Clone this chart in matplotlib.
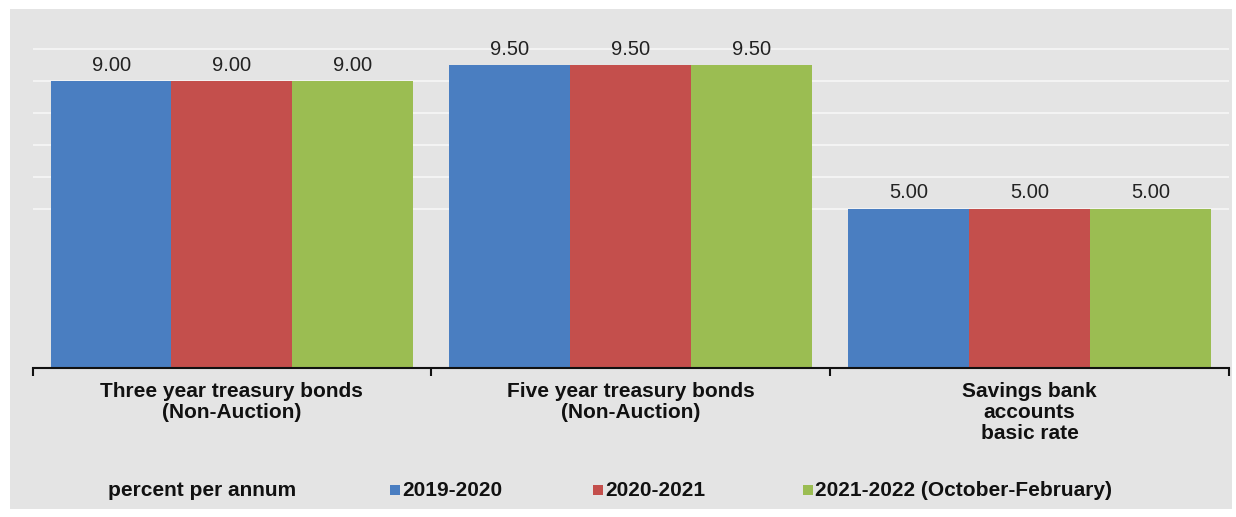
import matplotlib
matplotlib.use("Agg")
import matplotlib.pyplot as plt
from matplotlib.patches import Rectangle
import numpy as np

plt.rcParams['font.family'] = ['Liberation Sans', 'DejaVu Sans']

categories = ["Three year treasury bonds\n(Non-Auction)",
              "Five year treasury bonds\n(Non-Auction)",
              "Savings bank\naccounts\nbasic rate"]
series_names = ["2019-2020", "2020-2021", "2021-2022 (October-February)"]
v2019 = [9.00, 9.50, 5.00]
v2020 = [9.00, 9.50, 5.00]
v2021 = [9.00, 9.50, 5.00]
colors = ["#4a7ec1", "#c44f4c", "#9bbd52"]

W, H = 1236, 517
fig = plt.figure(figsize=(W / 100, H / 100), dpi=100, facecolor="white")
fig.patches.append(Rectangle((10 / W, 8 / H), 1222 / W, 500 / H, transform=fig.transFigure,
                             facecolor="#e4e4e4", edgecolor="none", zorder=-10))

ax = fig.add_axes([32.5 / W, (H - 368) / H, (1229 - 32.5) / W, (368 - 30) / H])
ax.set_facecolor("none")
x = np.arange(len(categories))
bw = 0.303
for i, (vals, c) in enumerate(zip([v2019, v2020, v2021], colors)):
    pos = x + (i - 1) * bw
    ax.bar(pos, vals, width=bw, color=c, zorder=3, label=series_names[i])
    for p, v in zip(pos, vals):
        ax.text(p, v + 0.2, f"{v:.2f}", ha="center", va="bottom", fontsize=14.5,
                color="#222222", zorder=4)

ax.set_xlim(-0.5, 2.5)
ax.set_ylim(0, 10.6)
ax.set_yticks(np.arange(5, 11, 1))
ax.yaxis.grid(True, color="#f3f3f3", linewidth=1.5, zorder=1)
ax.tick_params(axis="y", left=False, labelleft=False)
for s in ["top", "right", "left"]:
    ax.spines[s].set_visible(False)
ax.spines["bottom"].set_color("#111111")
ax.spines["bottom"].set_linewidth(1.5)
ax.spines["bottom"].set_zorder(5)
ax.set_xticks([-0.5, 0.5, 1.5, 2.5])
ax.set_xticklabels([])
ax.tick_params(axis="x", length=6, width=1.5, color="#111111", direction="out")
for xi, lab in zip(x, categories):
    ax.annotate(lab, xy=(xi, 0), xycoords="data", xytext=(0, -10), textcoords="offset points",
                ha="center", va="top", fontsize=15, fontweight="bold", color="#111111",
                linespacing=1.15)

# legend row
ly = (H - 490) / H
fig.text(108 / W, ly, "percent per annum", ha="left", va="center", fontsize=15,
         fontweight="bold", color="#111111")
leg_x = [390, 593, 803]
for lx, c, name in zip(leg_x, colors, series_names):
    fig.patches.append(Rectangle((lx / W, (H - 495) / H), 10 / W, 10 / H, transform=fig.transFigure,
                                 facecolor=c, edgecolor="none", zorder=2))
    fig.text((lx + 12) / W, ly, name, ha="left", va="center", fontsize=15,
             fontweight="bold", color="#111111")

fig.savefig("out.png", dpi=100, facecolor="white")
